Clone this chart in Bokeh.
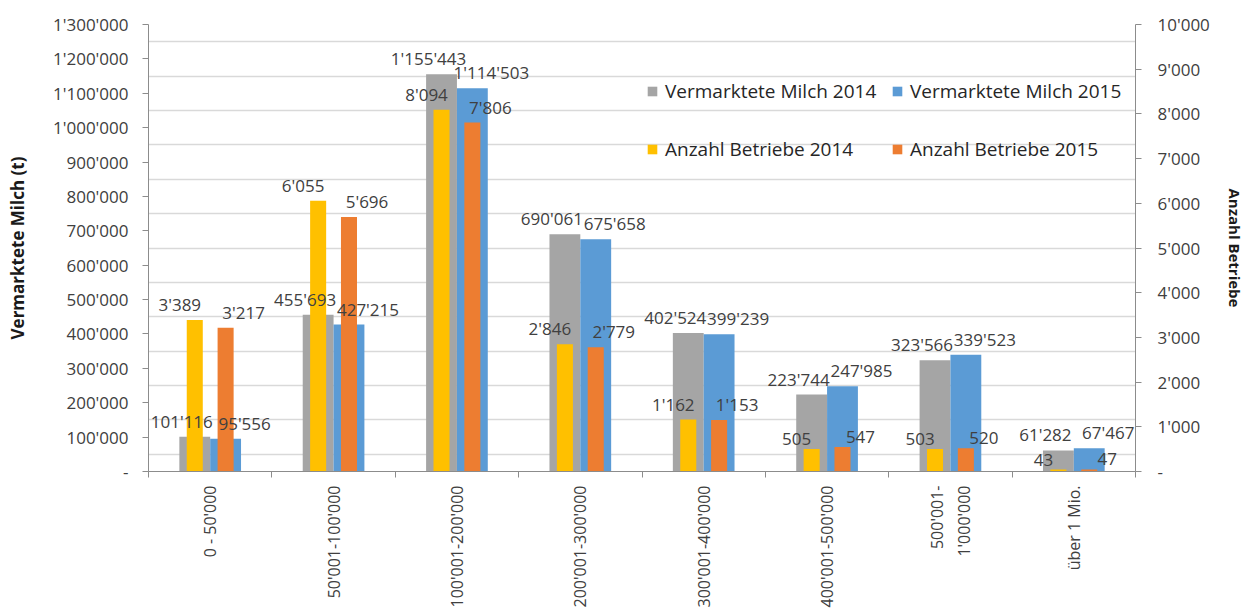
import math
from bokeh.plotting import figure
from bokeh.models import (Range1d, LinearAxis, FixedTicker, Label,
                          CustomJSTickFormatter, ColumnDataSource, Legend, LegendItem)
from bokeh.transform import dodge
from bokeh.embed import file_html
from bokeh.resources import INLINE

# ---- data ----
categories = ["0 - 50'000", "50'001-100'000", "100'001-200'000", "200'001-300'000",
              "300'001-400'000", "400'001-500'000", "500'001-\n1'000'000", "über 1 Mio."]
milk_2014 = [101116, 455693, 1155443, 690061, 402524, 223744, 323566, 61282]
milk_2015 = [95556, 427215, 1114503, 675658, 399239, 247985, 339523, 67467]
farms_2014 = [3389, 6055, 8094, 2846, 1162, 505, 503, 43]
farms_2015 = [3217, 5696, 7806, 2779, 1153, 547, 520, 47]
left_ticks = list(range(0, 1300001, 100000))
right_ticks = list(range(0, 10001, 1000))
grid_lines = list(range(50000, 1300000, 100000))
series_names = ["Vermarktete Milch 2014", "Vermarktete Milch 2015",
                "Anzahl Betriebe 2014", "Anzahl Betriebe 2015"]

# ---- styles ----
GRAY, BLUE, YELLOW, ORANGE = "#A5A5A5", "#5B9BD5", "#FFC000", "#ED7D31"
AX = "#8C8C8C"
TXT = "#404040"
FONT = "Open Sans"


def fmt(v):
    return f"{v:,}".replace(",", "'")


n = len(categories)
centers = [i + 0.5 for i in range(n)]          # category slot centres
boundaries = list(range(n + 1))                # category slot edges

src = ColumnDataSource(dict(xc=centers, m14=milk_2014, m15=milk_2015,
                            f14=farms_2014, f15=farms_2015))

p = figure(width=1247, height=612, x_range=Range1d(0, n),
           y_range=Range1d(0, left_ticks[-1]), output_backend="svg", toolbar_location=None,
           x_axis_location=None, y_axis_location="left",
           min_border_left=148, min_border_right=104, min_border_top=24, min_border_bottom=141)
p.outline_line_color = None
p.background_fill_color = "white"
p.border_fill_color = "white"

p.extra_y_ranges = {"farms": Range1d(0, right_ticks[-1])}

tick_js = """
if (tick == 0) { return '-'; }
return Math.round(tick).toString().replace(/\\B(?=(\\d{3})+(?!\\d))/g, "'");
"""

# left axis
ya = p.yaxis[0]
ya.ticker = FixedTicker(ticks=left_ticks)
ya.formatter = CustomJSTickFormatter(code=tick_js)
ya.axis_label = "Vermarktete Milch (t)"
ya.axis_label_text_font = "Open Sans"
ya.axis_label_text_font_style = "bold"
ya.axis_label_text_font_size = "17px"
ya.axis_label_text_color = "#1a1a1a"
ya.axis_label_standoff = 21
ya.major_label_text_font = FONT
ya.major_label_text_font_size = "17px"
ya.major_label_text_color = TXT
ya.major_label_standoff = 14
ya.major_tick_in = 0
ya.major_tick_out = 6
ya.minor_tick_line_color = None
ya.axis_line_color = AX
ya.major_tick_line_color = AX

# right axis
ra = LinearAxis(y_range_name="farms", ticker=FixedTicker(ticks=right_ticks),
                formatter=CustomJSTickFormatter(code=tick_js))
ra.axis_label = "Anzahl Betriebe"
ra.axis_label_text_font = "Open Sans"
ra.axis_label_text_font_style = "bold"
ra.axis_label_text_font_size = "15px"
ra.axis_label_text_color = "#1a1a1a"
ra.axis_label_standoff = 12
ra.major_label_text_font = FONT
ra.major_label_text_font_size = "17px"
ra.major_label_text_color = TXT
ra.major_label_standoff = 16
ra.major_tick_in = 0
ra.major_tick_out = 6
ra.minor_tick_line_color = None
ra.axis_line_color = AX
ra.major_tick_line_color = AX
p.add_layout(ra, "right")

# bottom: category labels at slot centres, tick marks at slot edges
ca = LinearAxis(ticker=FixedTicker(ticks=centers, minor_ticks=boundaries),
                formatter=CustomJSTickFormatter(args=dict(cats=categories),
                                                code="return cats[Math.floor(tick)];"),
                major_tick_line_color=None, major_tick_in=0, major_tick_out=6,
                minor_tick_line_color=AX, minor_tick_in=0, minor_tick_out=6,
                axis_line_color=AX,
                major_label_orientation=math.pi / 2, major_label_standoff=8,
                major_label_text_font=FONT, major_label_text_font_size="16px",
                major_label_text_color=TXT)
p.add_layout(ca, "below")

# grid
p.ygrid.ticker = FixedTicker(ticks=grid_lines)
p.ygrid.grid_line_color = "#D9D9D9"
p.ygrid.grid_line_width = 1.3
p.xgrid.visible = False

# bars
g = p.vbar(x=dodge("xc", -0.125), top="m14", width=0.25, source=src,
           fill_color=GRAY, line_color=None)
b = p.vbar(x=dodge("xc", 0.125), top="m15", width=0.25, source=src,
           fill_color=BLUE, line_color=None)
yb = p.vbar(x=dodge("xc", -0.125), top="f14", width=0.13, source=src,
            fill_color=YELLOW, line_color=None, y_range_name="farms")
ob = p.vbar(x=dodge("xc", 0.125), top="f15", width=0.13, source=src,
            fill_color=ORANGE, line_color=None, y_range_name="farms")

# data labels (series, bar offset within slot, pixel nudge, y range)
label_specs = [
    (milk_2014, -0.125, -13, "default"),
    (milk_2015, 0.125, 19, "default"),
    (farms_2014, -0.125, -15, "farms"),
    (farms_2015, 0.125, 18, "farms"),
]
for vals, dx, xoff, rng in label_specs:
    for c, v in zip(centers, vals):
        p.add_layout(Label(x=c + dx, y=v, text=fmt(v), y_range_name=rng,
                           x_offset=xoff, y_offset=4, text_align="center",
                           text_baseline="bottom", text_font=FONT,
                           text_font_size="17px", text_color=TXT))


# legends
def legend(items, loc):
    lg = Legend(items=items, orientation="horizontal", location=loc,
                padding=0, margin=0, spacing=14, glyph_width=12, glyph_height=12,
                label_standoff=7, label_width=212, label_height=12,
                label_text_font=FONT, label_text_font_size="19px", label_text_color="#262626",
                border_line_color=None, background_fill_alpha=0)
    p.add_layout(lg)


legend([LegendItem(label=series_names[0], renderers=[g]),
        LegendItem(label=series_names[1], renderers=[b])], (498, 367))
legend([LegendItem(label=series_names[2], renderers=[yb]),
        LegendItem(label=series_names[3], renderers=[ob])], (498, 309))

open("out.html", "w").write(file_html(p, INLINE))
